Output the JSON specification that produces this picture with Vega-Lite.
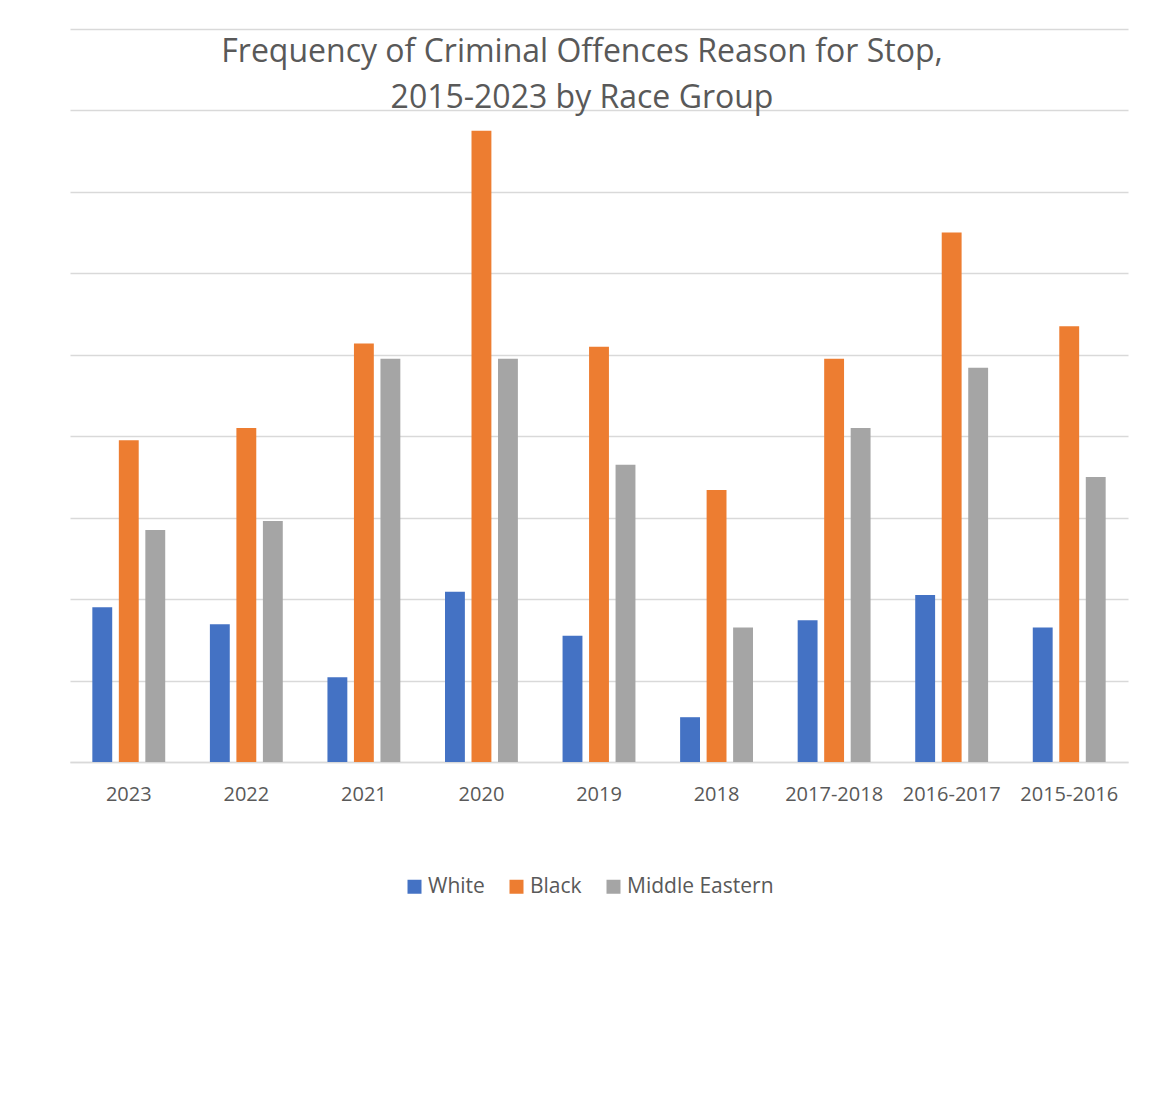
{
  "$schema": "https://vega.github.io/schema/vega-lite/v6.json",
  "width": 1058,
  "height": 733,
  "autosize": {"type": "none"},
  "padding": {"left": 70, "top": 29, "right": 27, "bottom": 333},
  "background": "white",
  "title": {
    "text": ["Frequency of Criminal Offences Reason for Stop,", "2015-2023 by Race Group"],
    "anchor": "middle",
    "frame": "group",
    "font": "Open Sans",
    "fontSize": 32,
    "fontWeight": "normal",
    "color": "#595959",
    "lineHeight": 46,
    "baseline": "top",
    "offset": -85,
    "dx": -17,
    "dy": 1
  },
  "data": {
    "values": [
      {"period": "2023", "race": "White", "value": 1.90},
      {"period": "2023", "race": "Black", "value": 3.95},
      {"period": "2023", "race": "Middle Eastern", "value": 2.85},
      {"period": "2022", "race": "White", "value": 1.69},
      {"period": "2022", "race": "Black", "value": 4.10},
      {"period": "2022", "race": "Middle Eastern", "value": 2.96},
      {"period": "2021", "race": "White", "value": 1.04},
      {"period": "2021", "race": "Black", "value": 5.14},
      {"period": "2021", "race": "Middle Eastern", "value": 4.95},
      {"period": "2020", "race": "White", "value": 2.09},
      {"period": "2020", "race": "Black", "value": 7.75},
      {"period": "2020", "race": "Middle Eastern", "value": 4.95},
      {"period": "2019", "race": "White", "value": 1.55},
      {"period": "2019", "race": "Black", "value": 5.10},
      {"period": "2019", "race": "Middle Eastern", "value": 3.65},
      {"period": "2018", "race": "White", "value": 0.55},
      {"period": "2018", "race": "Black", "value": 3.34},
      {"period": "2018", "race": "Middle Eastern", "value": 1.65},
      {"period": "2017-2018", "race": "White", "value": 1.74},
      {"period": "2017-2018", "race": "Black", "value": 4.95},
      {"period": "2017-2018", "race": "Middle Eastern", "value": 4.10},
      {"period": "2016-2017", "race": "White", "value": 2.05},
      {"period": "2016-2017", "race": "Black", "value": 6.50},
      {"period": "2016-2017", "race": "Middle Eastern", "value": 4.84},
      {"period": "2015-2016", "race": "White", "value": 1.65},
      {"period": "2015-2016", "race": "Black", "value": 5.35},
      {"period": "2015-2016", "race": "Middle Eastern", "value": 3.50}
    ]
  },
  "mark": {"type": "bar"},
  "encoding": {
    "x": {
      "field": "period",
      "type": "nominal",
      "sort": ["2023", "2022", "2021", "2020", "2019", "2018", "2017-2018", "2016-2017", "2015-2016"],
      "scale": {"paddingInner": 0.38, "paddingOuter": 0.19},
      "axis": {
        "title": null,
        "labelAngle": 0,
        "labelFont": "Open Sans",
        "labelFontSize": 20,
        "labelColor": "#595959",
        "labelPadding": 22,
        "ticks": false,
        "domainColor": "#d9d9d9",
        "domainWidth": 1.5
      }
    },
    "xOffset": {
      "field": "race",
      "type": "nominal",
      "sort": ["White", "Black", "Middle Eastern"],
      "scale": {"paddingInner": 0.25, "paddingOuter": 0}
    },
    "y": {
      "field": "value",
      "type": "quantitative",
      "scale": {"domain": [0, 9], "nice": false},
      "axis": {
        "title": null,
        "labels": false,
        "ticks": false,
        "domain": false,
        "values": [0, 1, 2, 3, 4, 5, 6, 7, 8, 9],
        "gridColor": "#d9d9d9",
        "gridWidth": 1.5
      }
    },
    "color": {
      "field": "race",
      "type": "nominal",
      "sort": ["White", "Black", "Middle Eastern"],
      "scale": {"domain": ["White", "Black", "Middle Eastern"], "range": ["#4472C4", "#ED7D31", "#A5A5A5"]},
      "legend": {
        "title": null,
        "orient": "none",
        "legendX": 334,
        "legendY": 847,
        "direction": "horizontal",
        "symbolType": "square",
        "symbolSize": 196,
        "symbolStrokeWidth": 0,
        "labelFont": "Open Sans",
        "labelFontSize": 21,
        "labelColor": "#595959",
        "labelOffset": 3,
        "columnPadding": 21
      }
    }
  },
  "config": {
    "view": {"stroke": null}
  }
}
